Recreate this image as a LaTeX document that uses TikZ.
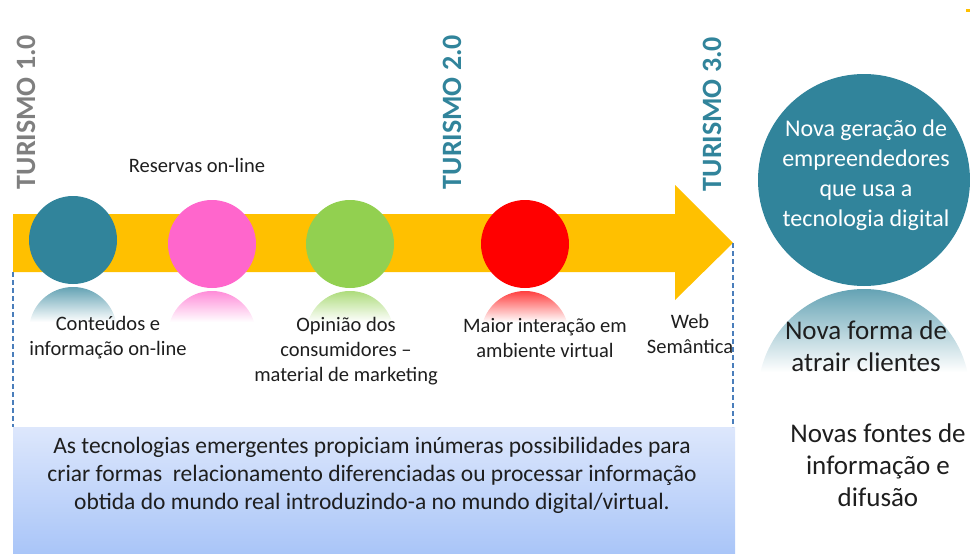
\documentclass[tikz,border=0pt]{standalone}
\usepackage{fontspec}
\setmainfont{Carlito}
\definecolor{teal1}{HTML}{31849B}
\definecolor{pink1}{HTML}{FF66CC}
\definecolor{green1}{HTML}{92D050}
\definecolor{red1}{HTML}{FF0000}
\definecolor{gold1}{HTML}{FFC000}
\definecolor{gray1}{HTML}{7F7F7F}
\definecolor{dash1}{HTML}{4A7EBB}
\definecolor{txt}{HTML}{1E1E1E}
\definecolor{boxtop}{HTML}{DDE7FC}
\definecolor{boxbot}{HTML}{A9C5F8}
\newcommand\myreflect[6]{% x, ytop, r, color, ybottom, strength
  \begin{scope}
    \clip (#1,#2+#3) circle (#3);
    \shade[top color=#4!#6!white, bottom color=white] (#1-#3,#2) rectangle (#1+#3,#5);
  \end{scope}}
\begin{document}
\begin{tikzpicture}[x=1pt,y=-1pt,
  dot/.style={circle, minimum size=88pt, inner sep=0pt, draw=none},
  lbl/.style={align=center, text=txt, inner sep=0pt, font=\fontsize{20.5}{25}\selectfont},
  big/.style={align=center, text=txt, inner sep=0pt, font=\fontsize{27}{32}\selectfont},
  era/.style={rotate=90, inner sep=0pt, font=\fontsize{28}{28}\selectfont\bfseries},
  dashline/.style={draw=dash1, dash pattern=on 5pt off 3pt, line width=1.6pt}]
\useasboundingbox (0,0) rectangle (970,554);
% bottom box
\shade[top color=boxtop, bottom color=boxbot] (13,427) rectangle (735,554);
\node[lbl, font=\fontsize{23.5}{28}\selectfont] (desc) at (372,475) {As tecnologias emergentes propiciam inúmeras possibilidades para\\criar formas\ \ relacionamento diferenciadas ou processar informação\\obtida do mundo real introduzindo-a no mundo digital/virtual.};
% arrow
\fill[gold1] (13,214) -- (675,214) -- (675,185) -- (733,243) -- (675,300) -- (675,272) -- (13,272) -- cycle;
\coordinate (tip) at (733,243);
\coordinate (lt) at (13,272);
\coordinate (lb) at (13,427);
\coordinate (rb) at (733,427);
\draw[dashline] (lt) -- (lb);
\draw[dashline] (tip) -- (rb);
% reflections
\myreflect{73}{287}{44}{teal1}{322}{75}
\myreflect{212}{291}{44}{pink1}{322}{75}
\myreflect{350}{291}{44}{green1}{322}{75}
\myreflect{525}{291}{44}{red1}{322}{75}
\myreflect{864}{289}{106}{teal1}{372}{75}
% circles
\node[dot, fill=teal1] (c1) at (73,240) {};
\node[dot, fill=pink1] (c2) at (212,244) {};
\node[dot, fill=green1] (c3) at (350,244) {};
\node[dot, fill=red1] (c4) at (525,244) {};
\node[circle, minimum size=212pt, inner sep=0pt, fill=teal1] (c5) at (864,180) {};
% era labels
\node[era, text=gray1] (t1) at (26,112) {TURISMO 1.0};
\node[era, text=teal1] (t2) at (452,112) {TURISMO 2.0};
\node[era, text=teal1] (t3) at (712,114) {TURISMO 3.0};
% labels
\node[lbl] (res) at (197,165) {Reservas on-line};
\node[lbl] (l1) at (108,338) {Conteúdos e\\informação on-line};
\node[lbl] (l3) at (346,351) {Opinião dos\\consumidores –\\material de marketing};
\node[lbl] (l4) at (545,338) {Maior interação em\\ambiente virtual};
\node[lbl] (l5) at (690,334) {Web\\Semântica};
\node[align=center, inner sep=0pt, text=white, font=\fontsize{24}{30}\selectfont] (bt) at (866,175) {Nova geração de\\empreendedores\\que usa a\\tecnologia digital};
\node[big] (r1) at (866,346) {Nova forma de\\atrair clientes};
\node[big] (r2) at (878,465) {Novas fontes de\\informação e\\difusão};
\fill[gold1] (966,9) rectangle (970,12);
\end{tikzpicture}
\end{document}
